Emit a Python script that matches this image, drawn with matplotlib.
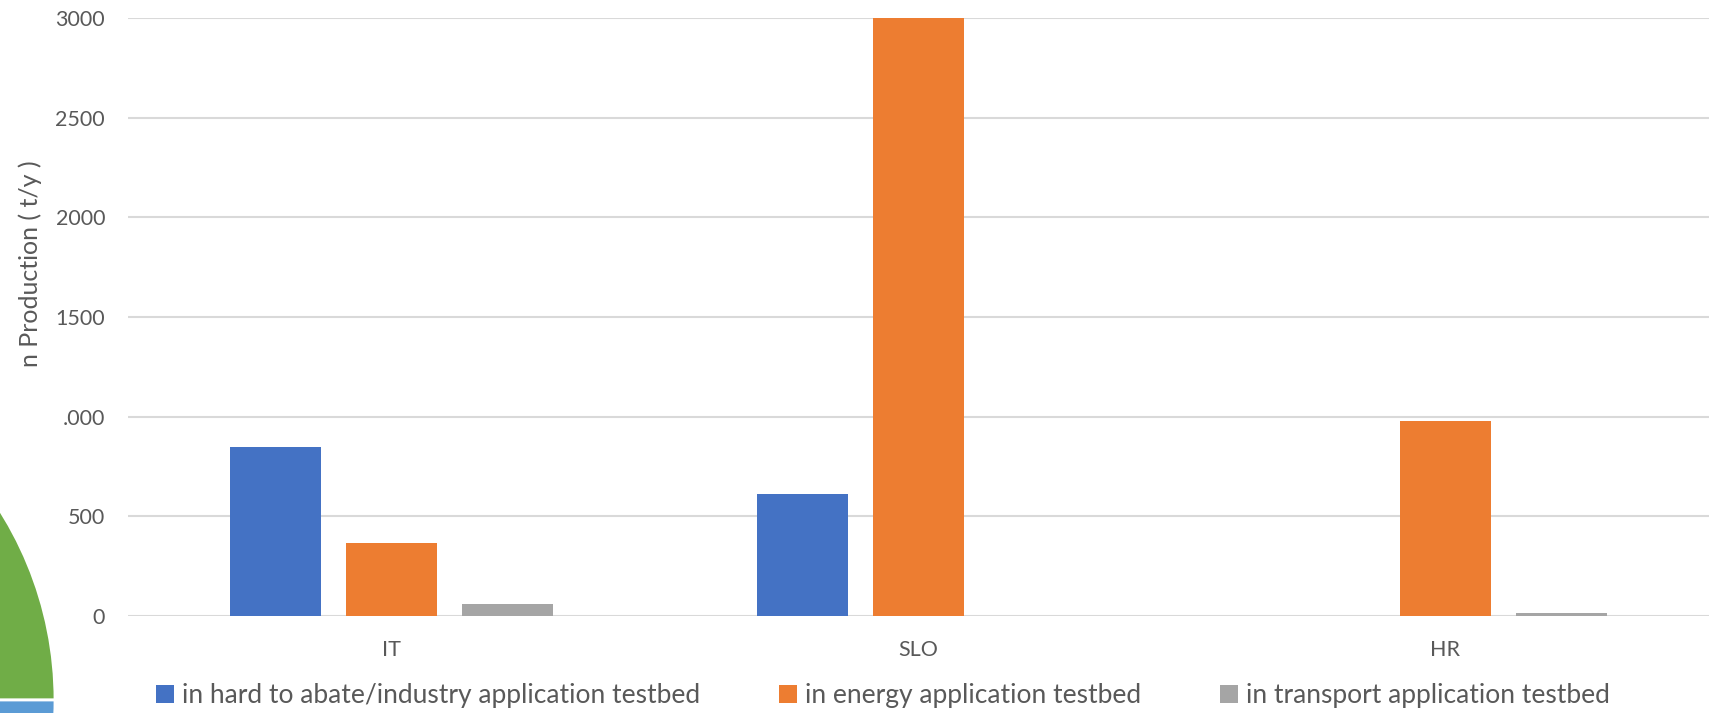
import numpy as np
import matplotlib
matplotlib.use("Agg")
import matplotlib.pyplot as plt
from matplotlib.patches import Wedge

plt.rcParams['font.family'] = ['Lato', 'DejaVu Sans']

# data
countries = ["IT", "SLO", "HR"]
industry = [848, 612, 0]
energy = [366, 3000, 977]
transport = [58, 0, 15]
series_names = ["in hard to abate/industry application testbed",
                "in energy application testbed",
                "in transport application testbed"]
series_colors = ["#4472C4", "#ED7D31", "#A5A5A5"]
yticks = [0, 500, 1000, 1500, 2000, 2500, 3000]
ytick_labels = ["0", "500", ".000", "1500", "2000", "2500", "3000"]

W, H = 1721, 713
fig = plt.figure(figsize=(W / 100, H / 100), dpi=100)

# leftover piece of a neighbouring pie chart at the bottom left
bg = fig.add_axes([0, 0, 1, 1], zorder=0)
bg.set_xlim(0, W)
bg.set_ylim(0, H)
bg.axis("off")
bg.add_patch(Wedge((-300, 13), 355, 0, 90, facecolor="#70AD47",
                   edgecolor="white", lw=2))
bg.add_patch(Wedge((-300, 13), 355, -90, 0, facecolor="#5B9BD5",
                   edgecolor="white", lw=2))

ax = fig.add_axes([128 / W, 1 - 616 / H, (1709 - 128) / W, (616 - 18) / H],
                  zorder=1)
ax.patch.set_alpha(0)

x = np.arange(len(countries))
bw = 0.173
step = 0.22
for i, (vals, name, col) in enumerate(zip([industry, energy, transport],
                                          series_names, series_colors)):
    ax.bar(x + (i - 1) * step, vals, width=bw, color=col, label=name,
           zorder=3)

ax.set_xlim(-0.5, len(countries) - 0.5)
ax.set_ylim(0, 3000)
ax.set_yticks(yticks)
ax.set_yticklabels(ytick_labels)
ax.set_xticks(x)
ax.set_xticklabels(countries)
ax.grid(axis="y", color="#D9D9D9", lw=1.5, zorder=0)
for s in ax.spines.values():
    s.set_visible(False)
ax.tick_params(axis="y", length=0, pad=16.5, labelsize=15.5, labelcolor="#595959")
ax.tick_params(axis="x", length=0, pad=17, labelsize=15.5, labelcolor="#595959")

fig.text(30 / W, 1 - 264 / H, "n Production ( t/y )", rotation=90,
         ha="center", va="center", fontsize=18, color="#595959")

fig.legend(loc="center", bbox_to_anchor=(0.513, 17 / H), ncol=3,
           frameon=False, fontsize=19, labelcolor="#595959",
           handlelength=0.68, handleheight=0.68, handletextpad=0.3,
           columnspacing=3.0)

fig.savefig("out.png", dpi=100)
